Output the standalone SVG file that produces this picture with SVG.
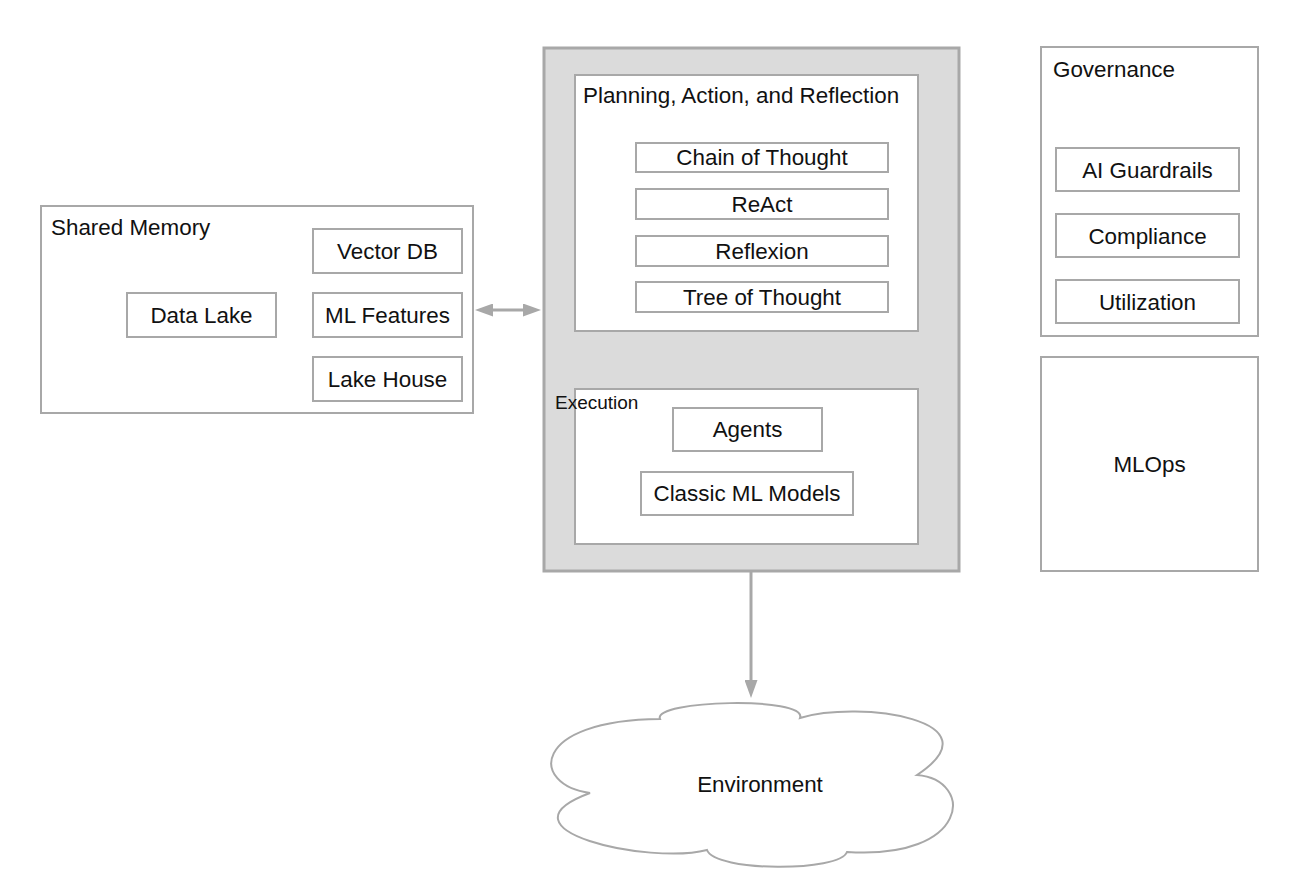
<svg xmlns="http://www.w3.org/2000/svg" width="1302" height="884" viewBox="0 0 1302 884">
<style>
  .box { fill: #ffffff; stroke: #a8a8a8; stroke-width: 2; }
  .outer { fill: #dbdbdb; stroke: #a8a8a8; stroke-width: 3; }
  .t { font-family: "Liberation Sans", Arial, sans-serif; font-size: 22.4px; fill: #111111; }
  .c { text-anchor: middle; }
  .small { font-size: 19px; }
  .conn { stroke: #a8a8a8; stroke-width: 3; fill: none; }
</style>
<defs>
  <marker id="head" viewBox="0 0 18 13" refX="12" refY="6.5" markerWidth="18" markerHeight="13" markerUnits="userSpaceOnUse" orient="auto-start-reverse">
    <path d="M0,0 L18,6.5 L0,13 z" fill="#a8a8a8"/>
  </marker>
</defs>
<rect width="1302" height="884" fill="#ffffff"/>

<g id="shared-memory">
  <rect class="box" x="41" y="206" width="432" height="207"/>
  <text class="t" x="51" y="235">Shared Memory</text>
  <g id="vector-db"><rect class="box" x="313" y="229" width="149" height="44"/><text class="t c" x="387.5" y="258.5">Vector DB</text></g>
  <g id="ml-features"><rect class="box" x="313" y="293" width="149" height="44"/><text class="t c" x="387.5" y="322.5">ML Features</text></g>
  <g id="lake-house"><rect class="box" x="313" y="357" width="149" height="44"/><text class="t c" x="387.5" y="386.5">Lake House</text></g>
  <g id="data-lake"><rect class="box" x="127" y="293" width="149" height="44"/><text class="t c" x="201.5" y="322.5">Data Lake</text></g>
</g>

<g id="core">
  <rect class="outer" x="544" y="48" width="415" height="523"/>
  <g id="planning">
    <rect class="box" x="575" y="75" width="343" height="256"/>
    <text class="t" x="583" y="103">Planning, Action, and Reflection</text>
    <g id="cot"><rect class="box" x="636" y="143" width="252" height="29"/><text class="t c" x="762" y="165">Chain of Thought</text></g>
    <g id="react"><rect class="box" x="636" y="189" width="252" height="30"/><text class="t c" x="762" y="211.5">ReAct</text></g>
    <g id="reflexion"><rect class="box" x="636" y="236" width="252" height="30"/><text class="t c" x="762" y="258.5">Reflexion</text></g>
    <g id="tot"><rect class="box" x="636" y="282" width="252" height="30"/><text class="t c" x="762" y="304.5">Tree of Thought</text></g>
  </g>
  <g id="execution">
    <rect class="box" x="575" y="389" width="343" height="155"/>
    <text class="t small" x="555" y="409">Execution</text>
    <g id="agents"><rect class="box" x="673" y="408" width="149" height="43"/><text class="t c" x="747.5" y="437">Agents</text></g>
    <g id="classic-ml"><rect class="box" x="641" y="472" width="212" height="43"/><text class="t c" x="747" y="501">Classic ML Models</text></g>
  </g>
</g>

<g id="governance">
  <rect class="box" x="1041" y="47" width="217" height="289"/>
  <text class="t" x="1053" y="76.5">Governance</text>
  <g id="guardrails"><rect class="box" x="1056" y="148" width="183" height="43"/><text class="t c" x="1147.5" y="177.5">AI Guardrails</text></g>
  <g id="compliance"><rect class="box" x="1056" y="214" width="183" height="43"/><text class="t c" x="1147.5" y="243.5">Compliance</text></g>
  <g id="utilization"><rect class="box" x="1056" y="280" width="183" height="43"/><text class="t c" x="1147.5" y="309.5">Utilization</text></g>
</g>

<g id="mlops">
  <rect class="box" x="1041" y="357" width="217" height="214"/>
  <text class="t c" x="1149.5" y="472">MLOps</text>
</g>

<g id="environment">
  <path class="box" stroke-width="2.5" d="M660,719 C652,700 808,696 800,718 C860,700 1000,720 917,775 C975,780 970,860 847,852 C840,872 715,872 707,850 C650,865 490,830 590,793 C530,785 530,720 660,719 Z"/>
  <text class="t c" x="760" y="792">Environment</text>
</g>

<g id="connectors">
  <line class="conn" x1="481" y1="310" x2="535" y2="310" marker-start="url(#head)" marker-end="url(#head)"/>
  <line class="conn" x1="751" y1="572" x2="751" y2="692" marker-end="url(#head)"/>
</g>
</svg>
